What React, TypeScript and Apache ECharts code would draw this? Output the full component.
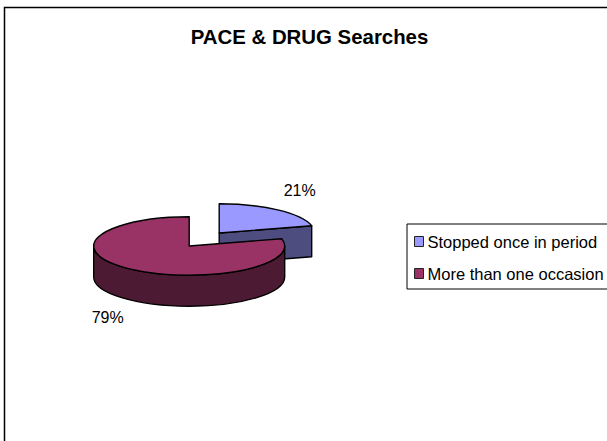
import React, { useEffect, useRef } from "react";
import * as echarts from "echarts";

const chartTitle = "PACE & DRUG Searches";
const categories = ["Stopped once in period", "More than one occasion"];
const shares = [21, 79];
const topColors = ["#9999FF", "#993366"];
const wallColors = ["#4D4D80", "#4D1A33"];

// Tilted-disc geometry shared by both slices.
const FONT = "'Liberation Sans', Arial, sans-serif";
const disc = { cx: 189.2, cy: 246, rx: 95.5, ry: 29.2, depth: 31 };
const explode = [{ dx: 30, dy: -13 }, { dx: 0, dy: 0 }];
const labelAt = [{ x: 299.7, y: 190.7 }, { x: 107.7, y: 317 }];

const total = shares.reduce((a, b) => a + b, 0);

// Angles run clockwise from twelve o'clock, in radians.
function sliceAngles(index: number) {
  const before = shares.slice(0, index).reduce((a, b) => a + b, 0);
  return {
    start: (before / total) * Math.PI * 2,
    end: ((before + shares[index]) / total) * Math.PI * 2,
  };
}

function rimPoint(cx: number, cy: number, angle: number) {
  return [cx + disc.rx * Math.sin(angle), cy - disc.ry * Math.cos(angle)];
}

function arcTo(p: number[], delta: number, sweep: number) {
  const large = Math.abs(delta) > Math.PI ? 1 : 0;
  return `A ${disc.rx} ${disc.ry} 0 ${large} ${sweep} ${p[0]} ${p[1]}`;
}

function slicePaths(index: number) {
  const { start, end } = sliceAngles(index);
  const cx = disc.cx + explode[index].dx;
  const cy = disc.cy + explode[index].dy;
  const d = disc.depth;
  const a = rimPoint(cx, cy, start);
  const b = rimPoint(cx, cy, end);
  const top = `M ${cx} ${cy} L ${a[0]} ${a[1]} ${arcTo(b, end - start, 1)} Z`;

  const walls: string[] = [];
  // Curved outer wall: only the near half of the rim faces the viewer.
  const wallStart = Math.max(start, Math.PI / 2);
  const wallEnd = Math.min(end, (Math.PI * 3) / 2);
  if (wallEnd > wallStart) {
    const p = rimPoint(cx, cy, wallStart);
    const q = rimPoint(cx, cy, wallEnd);
    const span = wallEnd - wallStart;
    walls.push(
      `M ${p[0]} ${p[1]} ${arcTo(q, span, 1)} L ${q[0]} ${q[1] + d} ` +
        `${arcTo([p[0], p[1] + d], span, 0)} Z`
    );
  }
  // Cut face along the trailing edge, visible when it points towards the viewer.
  if (end < Math.PI) {
    walls.push(
      `M ${cx} ${cy} L ${b[0]} ${b[1]} L ${b[0]} ${b[1] + d} L ${cx} ${cy + d} Z`
    );
  }
  return { top, walls };
}

function renderSlice(index: number) {
  return (_params: unknown, api: any) => {
    const { top, walls } = slicePaths(index);
    const edge = { stroke: "#000", lineWidth: 1.4, lineJoin: "round" };
    return {
      type: "group",
      children: [
        ...walls.map((pathData) => ({
          type: "path",
          shape: { pathData },
          style: { fill: wallColors[index], ...edge },
        })),
        {
          type: "path",
          shape: { pathData: top },
          style: { fill: topColors[index], ...edge },
        },
        {
          type: "text",
          x: labelAt[index].x,
          y: labelAt[index].y,
          style: {
            text: `${api.value(0)}%`,
            fill: "#000",
            font: `16px ${FONT}`,
            align: "center",
            verticalAlign: "middle",
          },
        },
      ],
    };
  };
}

export default function App() {
  const ref = useRef<HTMLDivElement>(null);

  useEffect(() => {
    document.body.style.margin = "0";
    const chart = echarts.init(ref.current!, null, { renderer: "svg" });
    chart.setOption({
      animation: false,
      backgroundColor: "#fff",
      title: {
        text: chartTitle,
        left: 304.5,
        top: 22,
        textAlign: "center",
        textStyle: { fontFamily: FONT, fontSize: 20.4, fontWeight: "bold", color: "#000" },
      },
      legend: {
        orient: "vertical",
        left: 407,
        top: 224,
        padding: [9, 12, 7, 7],
        itemGap: 15,
        itemWidth: 9,
        itemHeight: 10,
        borderColor: "#000",
        borderWidth: 1,
        backgroundColor: "#fff",
        textStyle: { fontFamily: FONT, fontSize: 16.5, color: "#000", padding: [0, 0, 0, -1] },
        data: categories.map((name, i) => ({
          name,
          icon: "rect",
          itemStyle: { color: topColors[i], borderColor: "#222", borderWidth: 1 },
        })),
      },
      graphic: [
        {
          type: "polyline",
          silent: true,
          shape: { points: [[4.5, 441], [4.5, 7.5], [607, 7.5]] },
          style: { fill: "none", stroke: "#000", lineWidth: 1.5 },
        },
      ],
      series: categories.map((name, i) => ({
        type: "custom",
        name,
        coordinateSystem: "none",
        silent: true,
        itemStyle: { color: topColors[i] },
        data: [[shares[i]]],
        renderItem: renderSlice(i),
      })),
    });
    return () => chart.dispose();
  }, []);

  return <div ref={ref} style={{ width: 607, height: 441 }} />;
}
